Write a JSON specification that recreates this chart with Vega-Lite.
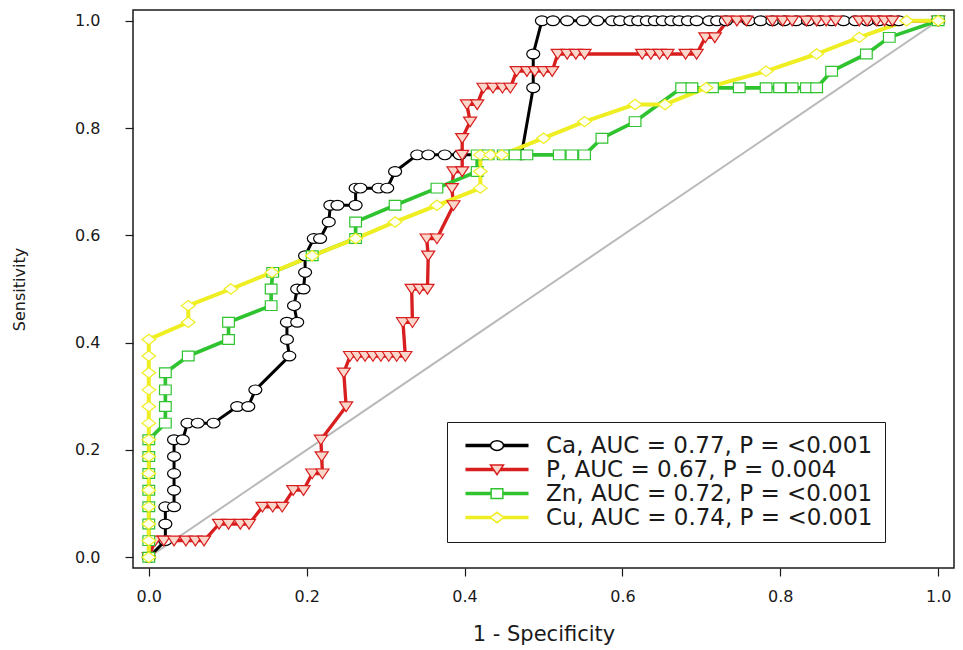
{
"$schema": "https://vega.github.io/schema/vega-lite/v6.json",
"width": 821, "height": 558, "autosize": "none",
"padding": {"left": 133, "top": 10, "right": 9, "bottom": 82},
"background": "white",
"config": {
  "view": {"stroke": "#1a1a1a", "strokeWidth": 1.5},
  "axis": {"domain": false, "grid": false, "tickColor": "#1a1a1a", "tickSize": 8, "tickWidth": 1.2, "labelFont": "DejaVu Sans", "labelFontSize": 16, "labelColor": "#1a1a1a", "titleFont": "DejaVu Sans", "titleFontWeight": "normal", "titleColor": "#1a1a1a"},
  "legend": {"strokeColor": "#1a1a1a", "padding": 12, "labelFont": "DejaVu Sans", "labelFontSize": 23, "labelColor": "#1a1a1a", "labelLimit": 700, "rowPadding": -7, "symbolSize": 169, "symbolStrokeWidth": 1.5, "symbolOpacity": 1, "symbolOffset": 26.5, "labelOffset": 37.5}
},
"resolve": {"scale": {"stroke": "independent", "fill": "independent", "shape": "independent"}},
"data": {"values": [
{"s":"Ca","k":0,"x":0,"y":0},{"s":"Ca","k":1,"x":0.021,"y":0.031},{"s":"Ca","k":2,"x":0.021,"y":0.062},{"s":"Ca","k":3,"x":0.021,"y":0.094},{"s":"Ca","k":4,"x":0.032,"y":0.094},{"s":"Ca","k":5,"x":0.032,"y":0.125},{"s":"Ca","k":6,"x":0.032,"y":0.156},{"s":"Ca","k":7,"x":0.032,"y":0.188},{"s":"Ca","k":8,"x":0.032,"y":0.219},{"s":"Ca","k":9,"x":0.043,"y":0.219},{"s":"Ca","k":10,"x":0.049,"y":0.25},{"s":"Ca","k":11,"x":0.062,"y":0.25},{"s":"Ca","k":12,"x":0.082,"y":0.25},{"s":"Ca","k":13,"x":0.112,"y":0.281},{"s":"Ca","k":14,"x":0.126,"y":0.281},{"s":"Ca","k":15,"x":0.135,"y":0.312},{"s":"Ca","k":16,"x":0.178,"y":0.375},{"s":"Ca","k":17,"x":0.175,"y":0.406},{"s":"Ca","k":18,"x":0.175,"y":0.438},{"s":"Ca","k":19,"x":0.188,"y":0.438},{"s":"Ca","k":20,"x":0.184,"y":0.469},{"s":"Ca","k":21,"x":0.188,"y":0.5},{"s":"Ca","k":22,"x":0.196,"y":0.5},{"s":"Ca","k":23,"x":0.198,"y":0.531},{"s":"Ca","k":24,"x":0.198,"y":0.562},{"s":"Ca","k":25,"x":0.209,"y":0.594},{"s":"Ca","k":26,"x":0.217,"y":0.594},{"s":"Ca","k":27,"x":0.228,"y":0.625},{"s":"Ca","k":28,"x":0.23,"y":0.656},{"s":"Ca","k":29,"x":0.239,"y":0.656},{"s":"Ca","k":30,"x":0.262,"y":0.656},{"s":"Ca","k":31,"x":0.262,"y":0.688},{"s":"Ca","k":32,"x":0.268,"y":0.688},{"s":"Ca","k":33,"x":0.291,"y":0.688},{"s":"Ca","k":34,"x":0.302,"y":0.688},{"s":"Ca","k":35,"x":0.312,"y":0.719},{"s":"Ca","k":36,"x":0.34,"y":0.75},{"s":"Ca","k":37,"x":0.354,"y":0.75},{"s":"Ca","k":38,"x":0.375,"y":0.75},{"s":"Ca","k":39,"x":0.394,"y":0.75},{"s":"Ca","k":40,"x":0.472,"y":0.75},{"s":"Ca","k":41,"x":0.487,"y":0.875},{"s":"Ca","k":42,"x":0.487,"y":0.938},{"s":"Ca","k":43,"x":0.498,"y":1},{"s":"Ca","k":44,"x":0.512,"y":1},{"s":"Ca","k":45,"x":0.53,"y":1},{"s":"Ca","k":46,"x":0.55,"y":1},{"s":"Ca","k":47,"x":0.568,"y":1},{"s":"Ca","k":48,"x":0.587,"y":1},{"s":"Ca","k":49,"x":0.597,"y":1},{"s":"Ca","k":50,"x":0.61,"y":1},{"s":"Ca","k":51,"x":0.62,"y":1},{"s":"Ca","k":52,"x":0.631,"y":1},{"s":"Ca","k":53,"x":0.641,"y":1},{"s":"Ca","k":54,"x":0.651,"y":1},{"s":"Ca","k":55,"x":0.662,"y":1},{"s":"Ca","k":56,"x":0.672,"y":1},{"s":"Ca","k":57,"x":0.683,"y":1},{"s":"Ca","k":58,"x":0.694,"y":1},{"s":"Ca","k":59,"x":0.71,"y":1},{"s":"Ca","k":60,"x":0.72,"y":1},{"s":"Ca","k":61,"x":0.731,"y":1},{"s":"Ca","k":62,"x":0.76,"y":1},{"s":"Ca","k":63,"x":0.775,"y":1},{"s":"Ca","k":64,"x":0.79,"y":1},{"s":"Ca","k":65,"x":0.805,"y":1},{"s":"Ca","k":66,"x":0.82,"y":1},{"s":"Ca","k":67,"x":0.835,"y":1},{"s":"Ca","k":68,"x":0.85,"y":1},{"s":"Ca","k":69,"x":0.865,"y":1},{"s":"Ca","k":70,"x":0.88,"y":1},{"s":"Ca","k":71,"x":0.895,"y":1},{"s":"Ca","k":72,"x":0.91,"y":1},{"s":"Ca","k":73,"x":0.925,"y":1},{"s":"Ca","k":74,"x":0.94,"y":1},{"s":"Ca","k":75,"x":0.95,"y":1},{"s":"Ca","k":76,"x":1,"y":1},
{"s":"P","k":0,"x":0,"y":0},{"s":"P","k":1,"x":0.008,"y":0.031},{"s":"P","k":2,"x":0.019,"y":0.031},{"s":"P","k":3,"x":0.032,"y":0.031},{"s":"P","k":4,"x":0.047,"y":0.031},{"s":"P","k":5,"x":0.059,"y":0.031},{"s":"P","k":6,"x":0.07,"y":0.031},{"s":"P","k":7,"x":0.089,"y":0.062},{"s":"P","k":8,"x":0.101,"y":0.062},{"s":"P","k":9,"x":0.116,"y":0.062},{"s":"P","k":10,"x":0.127,"y":0.062},{"s":"P","k":11,"x":0.144,"y":0.094},{"s":"P","k":12,"x":0.157,"y":0.094},{"s":"P","k":13,"x":0.169,"y":0.094},{"s":"P","k":14,"x":0.183,"y":0.125},{"s":"P","k":15,"x":0.196,"y":0.125},{"s":"P","k":16,"x":0.207,"y":0.156},{"s":"P","k":17,"x":0.22,"y":0.156},{"s":"P","k":18,"x":0.219,"y":0.188},{"s":"P","k":19,"x":0.218,"y":0.219},{"s":"P","k":20,"x":0.25,"y":0.281},{"s":"P","k":21,"x":0.247,"y":0.344},{"s":"P","k":22,"x":0.255,"y":0.375},{"s":"P","k":23,"x":0.264,"y":0.375},{"s":"P","k":24,"x":0.274,"y":0.375},{"s":"P","k":25,"x":0.284,"y":0.375},{"s":"P","k":26,"x":0.294,"y":0.375},{"s":"P","k":27,"x":0.304,"y":0.375},{"s":"P","k":28,"x":0.314,"y":0.375},{"s":"P","k":29,"x":0.325,"y":0.375},{"s":"P","k":30,"x":0.322,"y":0.438},{"s":"P","k":31,"x":0.334,"y":0.438},{"s":"P","k":32,"x":0.333,"y":0.5},{"s":"P","k":33,"x":0.343,"y":0.5},{"s":"P","k":34,"x":0.353,"y":0.5},{"s":"P","k":35,"x":0.354,"y":0.562},{"s":"P","k":36,"x":0.352,"y":0.594},{"s":"P","k":37,"x":0.365,"y":0.594},{"s":"P","k":38,"x":0.386,"y":0.656},{"s":"P","k":39,"x":0.384,"y":0.688},{"s":"P","k":40,"x":0.386,"y":0.719},{"s":"P","k":41,"x":0.397,"y":0.719},{"s":"P","k":42,"x":0.397,"y":0.75},{"s":"P","k":43,"x":0.397,"y":0.781},{"s":"P","k":44,"x":0.407,"y":0.812},{"s":"P","k":45,"x":0.403,"y":0.844},{"s":"P","k":46,"x":0.416,"y":0.844},{"s":"P","k":47,"x":0.424,"y":0.875},{"s":"P","k":48,"x":0.436,"y":0.875},{"s":"P","k":49,"x":0.448,"y":0.875},{"s":"P","k":50,"x":0.458,"y":0.875},{"s":"P","k":51,"x":0.466,"y":0.906},{"s":"P","k":52,"x":0.479,"y":0.906},{"s":"P","k":53,"x":0.489,"y":0.906},{"s":"P","k":54,"x":0.5,"y":0.906},{"s":"P","k":55,"x":0.511,"y":0.906},{"s":"P","k":56,"x":0.518,"y":0.938},{"s":"P","k":57,"x":0.53,"y":0.938},{"s":"P","k":58,"x":0.541,"y":0.938},{"s":"P","k":59,"x":0.552,"y":0.938},{"s":"P","k":60,"x":0.625,"y":0.938},{"s":"P","k":61,"x":0.636,"y":0.938},{"s":"P","k":62,"x":0.647,"y":0.938},{"s":"P","k":63,"x":0.657,"y":0.938},{"s":"P","k":64,"x":0.68,"y":0.938},{"s":"P","k":65,"x":0.694,"y":0.938},{"s":"P","k":66,"x":0.705,"y":0.969},{"s":"P","k":67,"x":0.717,"y":0.969},{"s":"P","k":68,"x":0.733,"y":1},{"s":"P","k":69,"x":0.745,"y":1},{"s":"P","k":70,"x":0.757,"y":1},{"s":"P","k":71,"x":0.79,"y":1},{"s":"P","k":72,"x":0.803,"y":1},{"s":"P","k":73,"x":0.815,"y":1},{"s":"P","k":74,"x":0.833,"y":1},{"s":"P","k":75,"x":0.846,"y":1},{"s":"P","k":76,"x":0.858,"y":1},{"s":"P","k":77,"x":0.87,"y":1},{"s":"P","k":78,"x":0.9,"y":1},{"s":"P","k":79,"x":0.91,"y":1},{"s":"P","k":80,"x":0.922,"y":1},{"s":"P","k":81,"x":0.932,"y":1},{"s":"P","k":82,"x":0.942,"y":1},{"s":"P","k":83,"x":1,"y":1},
{"s":"Zn","k":0,"x":0,"y":0},{"s":"Zn","k":1,"x":0,"y":0.031},{"s":"Zn","k":2,"x":0,"y":0.062},{"s":"Zn","k":3,"x":0,"y":0.094},{"s":"Zn","k":4,"x":0,"y":0.125},{"s":"Zn","k":5,"x":0,"y":0.156},{"s":"Zn","k":6,"x":0,"y":0.188},{"s":"Zn","k":7,"x":0,"y":0.219},{"s":"Zn","k":8,"x":0.021,"y":0.25},{"s":"Zn","k":9,"x":0.021,"y":0.281},{"s":"Zn","k":10,"x":0.021,"y":0.312},{"s":"Zn","k":11,"x":0.021,"y":0.344},{"s":"Zn","k":12,"x":0.05,"y":0.375},{"s":"Zn","k":13,"x":0.101,"y":0.406},{"s":"Zn","k":14,"x":0.101,"y":0.438},{"s":"Zn","k":15,"x":0.155,"y":0.469},{"s":"Zn","k":16,"x":0.155,"y":0.5},{"s":"Zn","k":17,"x":0.157,"y":0.531},{"s":"Zn","k":18,"x":0.207,"y":0.562},{"s":"Zn","k":19,"x":0.262,"y":0.594},{"s":"Zn","k":20,"x":0.262,"y":0.625},{"s":"Zn","k":21,"x":0.312,"y":0.656},{"s":"Zn","k":22,"x":0.365,"y":0.688},{"s":"Zn","k":23,"x":0.416,"y":0.719},{"s":"Zn","k":24,"x":0.416,"y":0.75},{"s":"Zn","k":25,"x":0.43,"y":0.75},{"s":"Zn","k":26,"x":0.449,"y":0.75},{"s":"Zn","k":27,"x":0.464,"y":0.75},{"s":"Zn","k":28,"x":0.479,"y":0.75},{"s":"Zn","k":29,"x":0.52,"y":0.75},{"s":"Zn","k":30,"x":0.536,"y":0.75},{"s":"Zn","k":31,"x":0.552,"y":0.75},{"s":"Zn","k":32,"x":0.574,"y":0.781},{"s":"Zn","k":33,"x":0.616,"y":0.812},{"s":"Zn","k":34,"x":0.675,"y":0.875},{"s":"Zn","k":35,"x":0.688,"y":0.875},{"s":"Zn","k":36,"x":0.714,"y":0.875},{"s":"Zn","k":37,"x":0.748,"y":0.875},{"s":"Zn","k":38,"x":0.782,"y":0.875},{"s":"Zn","k":39,"x":0.799,"y":0.875},{"s":"Zn","k":40,"x":0.815,"y":0.875},{"s":"Zn","k":41,"x":0.833,"y":0.875},{"s":"Zn","k":42,"x":0.846,"y":0.875},{"s":"Zn","k":43,"x":0.865,"y":0.906},{"s":"Zn","k":44,"x":0.909,"y":0.938},{"s":"Zn","k":45,"x":0.938,"y":0.969},{"s":"Zn","k":46,"x":1,"y":1},
{"s":"Cu","k":0,"x":0,"y":0},{"s":"Cu","k":1,"x":0,"y":0.031},{"s":"Cu","k":2,"x":0,"y":0.062},{"s":"Cu","k":3,"x":0,"y":0.094},{"s":"Cu","k":4,"x":0,"y":0.125},{"s":"Cu","k":5,"x":0,"y":0.156},{"s":"Cu","k":6,"x":0,"y":0.188},{"s":"Cu","k":7,"x":0,"y":0.219},{"s":"Cu","k":8,"x":0,"y":0.25},{"s":"Cu","k":9,"x":0,"y":0.281},{"s":"Cu","k":10,"x":0,"y":0.312},{"s":"Cu","k":11,"x":0,"y":0.344},{"s":"Cu","k":12,"x":0,"y":0.375},{"s":"Cu","k":13,"x":0,"y":0.406},{"s":"Cu","k":14,"x":0.05,"y":0.438},{"s":"Cu","k":15,"x":0.05,"y":0.469},{"s":"Cu","k":16,"x":0.104,"y":0.5},{"s":"Cu","k":17,"x":0.156,"y":0.531},{"s":"Cu","k":18,"x":0.207,"y":0.562},{"s":"Cu","k":19,"x":0.262,"y":0.594},{"s":"Cu","k":20,"x":0.312,"y":0.625},{"s":"Cu","k":21,"x":0.365,"y":0.656},{"s":"Cu","k":22,"x":0.42,"y":0.688},{"s":"Cu","k":23,"x":0.42,"y":0.719},{"s":"Cu","k":24,"x":0.42,"y":0.75},{"s":"Cu","k":25,"x":0.433,"y":0.75},{"s":"Cu","k":26,"x":0.447,"y":0.75},{"s":"Cu","k":27,"x":0.5,"y":0.781},{"s":"Cu","k":28,"x":0.552,"y":0.812},{"s":"Cu","k":29,"x":0.616,"y":0.844},{"s":"Cu","k":30,"x":0.654,"y":0.844},{"s":"Cu","k":31,"x":0.706,"y":0.875},{"s":"Cu","k":32,"x":0.782,"y":0.906},{"s":"Cu","k":33,"x":0.846,"y":0.938},{"s":"Cu","k":34,"x":0.9,"y":0.969},{"s":"Cu","k":35,"x":0.96,"y":1},{"s":"Cu","k":36,"x":1,"y":1}
]},
"encoding": {
  "x": {"field": "x", "type": "quantitative", "scale": {"domain": [-0.02, 1.02], "nice": false, "zero": false},
        "axis": {"values": [0, 0.2, 0.4, 0.6, 0.8, 1], "format": ".1f", "labelPadding": 12, "title": "1 - Specificity", "titleFontSize": 21, "titlePadding": 19}},
  "y": {"field": "y", "type": "quantitative", "scale": {"domain": [-0.02, 1.02], "nice": false, "zero": false},
        "axis": {"values": [0, 0.2, 0.4, 0.6, 0.8, 1], "format": ".1f", "labelPadding": 25, "title": "Sensitivity", "titleFontSize": 16, "titlePadding": 47}}
},
"layer": [
  {"data": {"values": [{"x": 0, "y": 0}, {"x": 1, "y": 1}]},
   "mark": {"type": "line", "color": "#b9b9b9", "strokeWidth": 2}, "encoding": {}},
  {"mark": {"type": "line", "strokeJoin": "round"},
   "encoding": {
     "stroke": {"field": "s", "type": "nominal", "scale": {"domain": ["Ca", "P", "Zn", "Cu"], "range": ["#000000", "#d81e1e", "#2fc42f", "#eeee22"]}, "legend": null},
     "strokeWidth": {"field": "s", "type": "nominal", "scale": {"domain": ["Ca", "P", "Zn", "Cu"], "range": [3, 4, 2.5, 2.5]}, "legend": null},
     "order": {"field": "k", "type": "quantitative"}
   }},
  {"mark": {"type": "point", "filled": true, "opacity": 1, "size": 169, "strokeWidth": 1.2},
   "encoding": {
     "stroke": {"field": "s", "type": "nominal", "scale": {"domain": ["Ca", "P", "Zn", "Cu"], "range": ["#000000", "#d81e1e", "#2fc42f", "#eeee22"]}, "legend": null},
     "fill": {"field": "s", "type": "nominal", "scale": {"domain": ["Ca", "P", "Zn", "Cu"], "range": ["#ffffff", "#fbd6ca", "#ffffff", "#fffff0"]}, "legend": null},
     "shape": {"field": "s", "type": "nominal", "scale": {"domain": ["Ca", "P", "Zn", "Cu"], "range": ["M-1,0A1,0.75,0,1,1,1,0A1,0.75,0,1,1,-1,0Z", "M-1,-0.7L1,-0.7L0,0.8Z", "M-0.9,-0.75H0.9V0.75H-0.9Z", "M-1.05,0L0,-0.8L1.05,0L0,0.8Z"]}, "legend": null}
   }},
  {"transform": [{"filter": "false"}],
   "mark": {"type": "point", "filled": true, "opacity": 1, "size": 169, "strokeWidth": 1.5},
   "encoding": {
     "stroke": {"field": "s", "type": "nominal", "scale": {"domain": ["Ca", "P", "Zn", "Cu"], "range": ["#000000", "#d81e1e", "#2fc42f", "#eeee22"]},
        "legend": {"title": null, "orient": "none", "legendX": 314, "legendY": 412, "labelExpr": "datum.value === 'Ca' ? 'Ca, AUC = 0.77, P = <0.001' : datum.value === 'P' ? 'P, AUC = 0.67, P = 0.004' : datum.value === 'Zn' ? 'Zn, AUC = 0.72, P = <0.001' : 'Cu, AUC = 0.74, P = <0.001'"}},
     "fill": {"field": "s", "type": "nominal", "scale": {"domain": ["Ca", "P", "Zn", "Cu"], "range": ["#ffffff", "#fbd6ca", "#ffffff", "#fffff0"]},
        "legend": {"title": null, "orient": "none", "legendX": 314, "legendY": 412, "labelExpr": "datum.value === 'Ca' ? 'Ca, AUC = 0.77, P = <0.001' : datum.value === 'P' ? 'P, AUC = 0.67, P = 0.004' : datum.value === 'Zn' ? 'Zn, AUC = 0.72, P = <0.001' : 'Cu, AUC = 0.74, P = <0.001'"}},
     "shape": {"field": "s", "type": "nominal", "scale": {"domain": ["Ca", "P", "Zn", "Cu"], "range": [
        "M-4.85,-0.16H-1M-4.85,0H-1M-4.85,0.16H-1M1,-0.16H4.85M1,0H4.85M1,0.16H4.85M-1,0A1,0.75,0,1,1,1,0A1,0.75,0,1,1,-1,0Z",
        "M-4.85,-0.16H-0.6M-4.85,0H-0.55M-4.85,0.16H-0.45M0.6,-0.16H4.85M0.55,0H4.85M0.45,0.16H4.85M-1,-0.7L1,-0.7L0,0.8Z",
        "M-4.85,-0.16H-0.9M-4.85,0H-0.9M-4.85,0.16H-0.9M0.9,-0.16H4.85M0.9,0H4.85M0.9,0.16H4.85M-0.9,-0.75H0.9V0.75H-0.9Z",
        "M-4.85,-0.16H-0.9M-4.85,0H-1M-4.85,0.16H-0.9M0.9,-0.16H4.85M1,0H4.85M0.9,0.16H4.85M-1.05,0L0,-0.8L1.05,0L0,0.8Z"]},
        "legend": {"title": null, "orient": "none", "legendX": 314, "legendY": 412, "labelExpr": "datum.value === 'Ca' ? 'Ca, AUC = 0.77, P = <0.001' : datum.value === 'P' ? 'P, AUC = 0.67, P = 0.004' : datum.value === 'Zn' ? 'Zn, AUC = 0.72, P = <0.001' : 'Cu, AUC = 0.74, P = <0.001'"}}
   }}
]
}
